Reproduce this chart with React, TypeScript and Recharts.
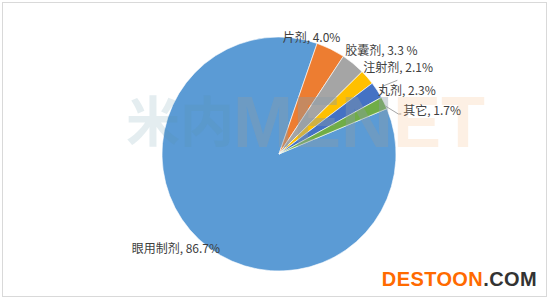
import { PieChart, Pie, Cell } from "recharts";

const CATEGORIES = ["眼用制剂", "片剂", "胶囊剂", "注射剂", "丸剂", "其它"];
const SHARES = [86.7, 4.0, 3.3, 2.1, 2.3, 1.7];
const SHARE_LABELS = ["86.7%", "4.0%", "3.3 %", "2.1%", "2.3%", "1.7%"];

const COLORS = ["#5b9bd5", "#ed7d31", "#a5a5a5", "#ffc000", "#4472c4", "#70ad47"];

// label nudges relative to the slice's outer edge at its mid angle
const NUDGE: { dx: number; dy: number; anchor: "start" | "end"; line?: number[][] }[] = [
  { dx: 21, dy: 8.5, anchor: "end" },
  { dx: -48, dy: -13, anchor: "start" },
  { dx: -8, dy: -14, anchor: "start" },
  { dx: -4, dy: -11, anchor: "start", line: [[15, 9], [30, 3]] },
  { dx: 1, dy: -1, anchor: "start" },
  { dx: 19, dy: 7, anchor: "start", line: [[1, 3], [14, 11], [17, 11]] },
];

const data = CATEGORIES.map((name, i) => ({
  name,
  value: SHARES[i],
  text: `${name}, ${SHARE_LABELS[i]}`,
}));

const RAD = Math.PI / 180;

function renderLabel(props: any) {
  const { cx, cy, midAngle, outerRadius, index } = props;
  const ex = cx + outerRadius * Math.cos(-midAngle * RAD);
  const ey = cy + outerRadius * Math.sin(-midAngle * RAD);
  const n = NUDGE[index];
  return (
    <g key={`lbl-${index}`}>
      {n.line && (
        <polyline
          points={n.line.map(([x, y]) => `${ex + x},${ey + y}`).join(" ")}
          fill="none"
          stroke="#a6a6a6"
          strokeWidth={1}
        />
      )}
      <text
        x={ex + n.dx}
        y={ey + n.dy}
        textAnchor={n.anchor}
        dominantBaseline="central"
        fontSize={12}
        fill="#404040"
        fontFamily="'Noto Sans CJK SC', sans-serif"
      >
        {data[index].text}
      </text>
    </g>
  );
}

export default function App() {
  return (
    <div
      style={{
        position: "absolute",
        left: 0,
        top: 0,
        width: 551,
        height: 301,
        background: "#fff",
      }}
    >
      <div
        style={{
          position: "absolute",
          left: 2,
          top: 2,
          width: 545,
          height: 295,
          border: "1px solid #d9d9d9",
          boxSizing: "border-box",
        }}
      />
      <PieChart width={551} height={301} style={{ position: "absolute", left: 0, top: 0 }}>
        <Pie
          data={data}
          dataKey="value"
          cx={274}
          cy={149}
          outerRadius={117}
          startAngle={22.8}
          endAngle={-337.2}
          stroke="#ffffff"
          strokeWidth={0.6}
          label={renderLabel}
          labelLine={false}
          isAnimationActive={false}
        >
          {data.map((_, i) => (
            <Cell key={i} fill={COLORS[i]} />
          ))}
        </Pie>
      </PieChart>
      <svg
        width={551}
        height={301}
        style={{ position: "absolute", left: 0, top: 0, pointerEvents: "none" }}
      >
        <text
          x={126}
          y={142}
          fontSize={54}
          fontWeight="bold"
          fontFamily="'Noto Sans CJK SC', sans-serif"
          fill="#5a8ca0"
          fillOpacity={0.16}
        >
          米内
        </text>
        <text
          x={233}
          y={147}
          fontSize={72}
          fontWeight="bold"
          fontFamily="'Liberation Sans', sans-serif"
        >
          <tspan fill="#8a9aa8" fillOpacity={0.4}>MEN</tspan>
          <tspan fill="#f4b27a" fillOpacity={0.2}>ET</tspan>
        </text>
        <text
          x={537}
          y={286}
          textAnchor="end"
          fontSize={20}
          fontWeight="bold"
          letterSpacing={0.4}
          fontFamily="'Liberation Sans', sans-serif"
        >
          <tspan fill="#ff6a00">DESTOON</tspan>
          <tspan fill="#333333">.COM</tspan>
        </text>
      </svg>
    </div>
  );
}
